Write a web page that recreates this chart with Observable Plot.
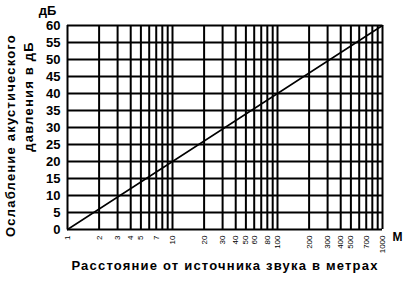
<!DOCTYPE html>
<html><head><meta charset="utf-8">
<script src="https://cdn.jsdelivr.net/npm/d3@7"></script>
<script src="https://cdn.jsdelivr.net/npm/@observablehq/plot@0.6"></script>
<style>body{margin:0;background:#fff}</style>
</head><body><div id="chart"></div>
<script>
const distance = [1, 1000];
const attenuation = [0, 60];
const gridDistances = [1,2,3,4,5,6,7,8,9,10,20,30,40,50,60,70,80,90,100,200,300,400,500,600,700,800,900,1000];
const xTickLabels = [1,2,3,4,5,7,10,20,30,40,50,60,80,100,200,300,400,500,700,1000];
const yTicks = [0,5,10,15,20,25,30,35,40,45,50,55,60];
const yTitle1 = "Ослабление акустического";
const yTitle2 = "давления в дБ";
const xTitle = "Расстояние от источника звука в метрах";
const yUnit = "дБ";
const xUnit = "М";

const font = "'Liberation Sans', Arial, sans-serif";
const chart = Plot.plot({
  width: 407, height: 282,
  marginLeft: 67, marginRight: 25, marginTop: 25, marginBottom: 53,
  style: {fontFamily: font, background: "#fff", color: "#000"},
  x: {type: "log", domain: [1, 1000], axis: null},
  y: {domain: [0, 60]},
  marks: [
    Plot.ruleX(gridDistances, {stroke: "#000", strokeWidth: 2}),
    Plot.ruleY(yTicks, {stroke: "#000", strokeWidth: 2}),
    Plot.line(distance.map((d, i) => ({d, a: attenuation[i]})), {x: "d", y: "a", stroke: "#000", strokeWidth: 1.5}),
    Plot.text(xTickLabels, {x: d => d, text: d => String(d), frameAnchor: "bottom", rotate: -90, textAnchor: "end", lineAnchor: "middle", dy: 6, fontSize: 8}),
    Plot.axisY(yTicks, {tickSize: 0, tickPadding: 7, fontSize: 13, fontWeight: "bold", label: null}),
    Plot.text([yUnit], {frameAnchor: "top-left", lineAnchor: "middle", dx: -20, dy: -15, fontSize: 13, fontWeight: "bold", textAnchor: "middle"}),
    Plot.text([xUnit], {frameAnchor: "bottom-right", dx: 15, dy: 11, fontSize: 12, fontWeight: "bold", textAnchor: "middle"}),
    Plot.text([xTitle], {frameAnchor: "bottom", dy: 40, fontSize: 13, fontWeight: "bold"}),
    Plot.text([yTitle1], {frameAnchor: "left", rotate: -90, textAnchor: "middle", dx: -57, dy: 8, fontSize: 13, fontWeight: "bold"}),
    Plot.text([yTitle2], {frameAnchor: "left", rotate: -90, textAnchor: "middle", dx: -39, dy: -31, fontSize: 13, fontWeight: "bold"})
  ]
});
d3.select(chart).selectAll("text").each(function() {
  const t = this.textContent;
  if (t === xTitle || t === yTitle1 || t === yTitle2) d3.select(this).style("letter-spacing", "1.2px");
});
document.getElementById("chart").append(chart);
</script></body></html>
